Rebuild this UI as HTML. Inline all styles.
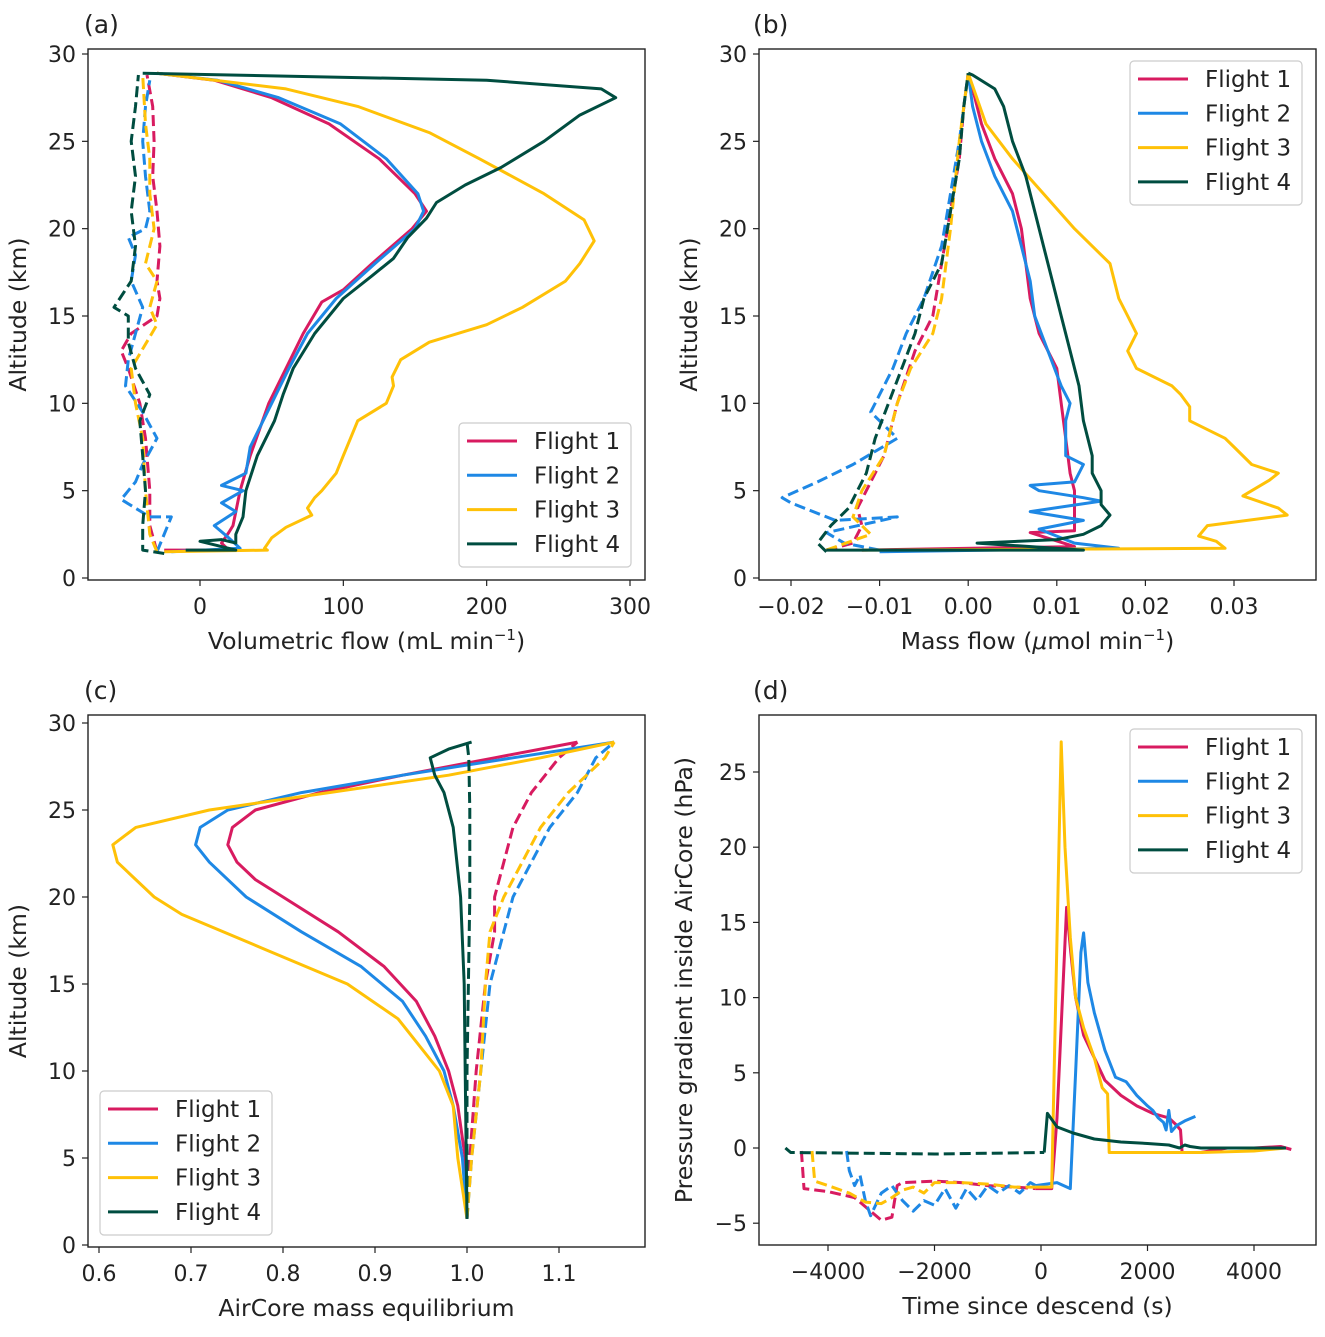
<!DOCTYPE html>
<html><head><meta charset="utf-8"><style>
body{margin:0;background:#fff}
svg text{font-family:"DejaVu Sans","Liberation Sans",sans-serif;fill:#222}
</style></head><body>
<svg id="fig" xmlns="http://www.w3.org/2000/svg" width="1325" height="1332" viewBox="0 0 1325 1332"></svg>
<script>
// ---- data: [y, x] pairs for altitude panels, [t, p] for panel d ----
const aF1Solid=[[1.6,-25],[1.6,20],[2.0,15],[2.6,20],[3,23],[5,28],[7,35],[10,48],[12,60],[14,72],[15.8,85],[16.5,100],[18,120],[20,148],[21,158],[22,150],[24,125],[26,90],[27.5,50],[28.5,10],[28.9,-30]];
const aF2Solid=[[1.5,-20],[1.7,28],[2.3,20],[3.0,10],[3.8,25],[4.3,15],[5.0,30],[5.3,15],[6,32],[7.5,35],[10,50],[12,62],[14,75],[16,95],[18,122],[20,150],[21,156],[22,152],[24,130],[26,98],[27.5,55],[28.5,12],[28.9,-30]];
const aF3Solid=[[1.5,-25],[1.6,47],[1.7,45],[2.3,50],[2.9,60],[3.6,78],[4,75],[4.6,80],[5,85],[6,95],[7,100],[8,105],[9,110],[10,130],[11,135],[11.5,134],[12.5,140],[13.5,160],[14.5,200],[15.5,225],[17,255],[18,265],[19.3,275],[20.5,268],[22,240],[24,195],[25.5,160],[27,110],[28,60],[28.9,-30]];
const aF4Solid=[[1.6,-10],[1.6,25],[2.1,0],[2.2,15],[2.0,25],[2.5,25],[3.5,30],[5,32],[7,40],[9,52],[10.5,58],[12,65],[14,80],[16,100],[17.3,120],[18.3,135],[19.5,145],[20.6,158],[21.5,165],[22.5,185],[23.5,210],[25,240],[26.5,265],[27.5,290],[28.0,280],[28.5,200],[28.9,-40]];
const aF1Dash=[[1.5,-30],[3,-35],[5,-35],[8,-38],[10,-42],[12,-50],[13,-55],[14,-48],[15,-30],[16,-28],[17,-30],[19,-28],[21,-30],[23,-33],[25,-32],[27,-33],[28.8,-37]];
const aF2Dash=[[1.5,-30],[3.5,-20],[3.5,-35],[4.5,-55],[5.5,-45],[6.5,-40],[8,-30],[9.5,-40],[11,-52],[12.5,-50],[14,-45],[15.5,-40],[17,-48],[18.5,-45],[19.5,-50],[20,-38],[21,-35],[23,-38],[25,-40],[27,-38],[28.5,-35]];
const aF3Dash=[[1.5,-30],[2.5,-35],[5,-38],[8,-40],[10,-45],[12,-48],[14.5,-30],[15.5,-35],[17,-30],[18,-38],[20,-32],[22,-35],[24,-35],[26,-38],[28.8,-40]];
const aF4Dash=[[1.4,-25],[1.6,-40],[3,-40],[5,-38],[7,-40],[9,-42],[10.5,-35],[12,-45],[13.5,-50],[15,-50],[15.5,-60],[17,-48],[19,-45],[21,-48],[23,-45],[25,-48],[27,-45],[28.8,-43]];

const bF1Solid=[[1.6,-0.012],[1.8,0.012],[2.6,0.007],[2.7,0.012],[3,0.012],[4,0.012],[5,0.012],[6,0.0115],[8,0.011],[10,0.0105],[12,0.01],[14,0.008],[16,0.007],[18,0.0065],[20,0.006],[22,0.005],[24,0.003],[26,0.0015],[28,0.0005],[28.9,0]];
const bF2Solid=[[1.5,-0.01],[1.7,0.017],[2,0.012],[2.8,0.008],[3.3,0.013],[3.8,0.007],[4.4,0.015],[4.6,0.013],[5,0.008],[5.3,0.007],[5.5,0.012],[6.5,0.013],[7,0.011],[9,0.011],[10,0.0115],[11,0.0105],[13,0.009],[15,0.0075],[17,0.007],[19,0.006],[21,0.005],[23,0.003],[25,0.0015],[27,0.0005],[28.9,0]];
const bF3Solid=[[1.6,-0.012],[1.7,0.029],[2.1,0.028],[2.4,0.026],[3,0.027],[3.6,0.036],[4,0.035],[4.7,0.031],[5,0.032],[5.6,0.034],[6,0.035],[6.5,0.032],[7.5,0.03],[8,0.029],[9,0.025],[9.8,0.025],[10.5,0.024],[11,0.023],[12,0.019],[13,0.018],[14,0.019],[15,0.018],[16,0.017],[18,0.016],[20,0.012],[22,0.0085],[24,0.005],[26,0.002],[28.9,0]];
const bF4Solid=[[1.6,-0.016],[1.6,0.013],[2.0,0.001],[2.2,0.01],[2.5,0.013],[3,0.015],[3.6,0.016],[4.2,0.015],[5,0.015],[6,0.014],[7,0.014],[9,0.013],[11,0.0125],[13,0.0115],[15,0.0105],[17,0.0095],[19,0.0085],[21,0.0075],[23,0.0065],[25,0.005],[27,0.004],[28,0.003],[28.8,0.0005],[28.9,0]];
const bF1Dash=[[1.6,-0.016],[2,-0.013],[3,-0.012],[4,-0.0125],[5,-0.0115],[7,-0.0095],[10,-0.008],[13,-0.006],[15,-0.004],[18,-0.003],[21,-0.002],[24,-0.001],[27,-0.0005],[28.9,0]];
const bF2Dash=[[1.6,-0.01],[2,-0.014],[2.6,-0.016],[3.5,-0.008],[3.3,-0.015],[4.3,-0.02],[4.6,-0.021],[5.5,-0.017],[6.5,-0.013],[8,-0.008],[9.5,-0.011],[10.5,-0.01],[12,-0.0085],[14,-0.007],[16,-0.005],[19,-0.003],[22,-0.002],[25,-0.001],[28.9,0]];
const bF3Dash=[[1.6,-0.016],[2.5,-0.011],[3.5,-0.013],[5,-0.012],[7,-0.0095],[10,-0.008],[12,-0.0065],[14,-0.004],[16,-0.003],[20,-0.002],[25,-0.001],[28.9,0]];
const bF4Dash=[[1.5,-0.016],[2,-0.017],[3,-0.0155],[4,-0.0135],[6,-0.0115],[8,-0.0105],[10,-0.009],[12,-0.0075],[14,-0.006],[16,-0.005],[18,-0.003],[21,-0.002],[24,-0.001],[27,-0.0005],[28.9,0]];

const cF1Solid=[[1.5,1.0],[5,0.998],[8,0.99],[10,0.98],[12,0.965],[14,0.945],[16,0.91],[18,0.86],[20,0.8],[21,0.77],[22,0.75],[23,0.74],[24,0.745],[25,0.77],[26,0.84],[27,0.93],[28,1.03],[28.9,1.12]];
const cF2Solid=[[1.5,1.0],[5,0.995],[8,0.985],[10,0.975],[12,0.955],[14,0.93],[16,0.885],[18,0.82],[20,0.76],[22,0.72],[23,0.705],[24,0.71],[25,0.74],[26,0.82],[27,0.93],[28,1.05],[28.9,1.16]];
const cF3Solid=[[1.5,1.0],[5,0.99],[8,0.985],[10,0.97],[12,0.94],[13,0.925],[15,0.87],[17,0.78],[19,0.69],[20,0.66],[21,0.64],[22,0.62],[23,0.615],[24,0.64],[25,0.72],[26,0.85],[27,0.98],[28,1.08],[28.9,1.16]];
const cF4Solid=[[1.5,1.0],[10,0.998],[15,0.997],[20,0.993],[24,0.985],[26,0.975],[27,0.965],[28,0.96],[28.5,0.98],[28.9,1.005]];
const cF1Dash=[[1.5,1.0],[5,1.003],[10,1.01],[15,1.02],[18,1.03],[20,1.03],[22,1.04],[24,1.05],[26,1.07],[28,1.1],[28.9,1.12]];
const cF2Dash=[[1.5,1.0],[5,1.005],[10,1.015],[15,1.025],[18,1.04],[20,1.05],[22,1.07],[24,1.09],[26,1.12],[28,1.14],[28.9,1.16]];
const cF3Dash=[[1.5,1.0],[5,1.005],[10,1.015],[15,1.02],[18,1.025],[20,1.04],[22,1.06],[24,1.08],[26,1.11],[27,1.13],[28,1.15],[28.9,1.16]];
const cF4Dash=[[1.5,1.0],[10,1.0],[20,1.003],[25,1.003],[28,1.002],[28.9,1.0]];

const dF1Solid=[[-100,-2.7],[200,-2.7],[300,2],[480,16],[560,13],[650,10],[800,7.5],[1000,6],[1200,4.5],[1500,3.5],[1800,2.8],[2100,2.3],[2400,2],[2550,1.5],[2620,1.2],[2650,-0.3],[3000,-0.3],[3500,0],[4000,0],[4500,0.1],[4700,-0.1]];
const dF2Solid=[[-100,-2.5],[300,-2.3],[550,-2.7],[650,5],[750,13],[800,14.3],[880,11],[1000,9],[1200,6.5],[1400,4.7],[1600,4.4],[1800,3.5],[2000,2.8],[2100,2.5],[2200,2],[2300,1.7],[2350,1.2],[2400,2.5],[2450,1.1],[2550,1.5],[2700,1.8],[2900,2.1]];
const dF3Solid=[[-100,-2.6],[200,-2.6],[380,27],[450,20],[550,14],[650,10],[800,8],[1000,6],[1150,4],[1250,3.6],[1280,-0.3],[2000,-0.3],[3000,-0.3],[4000,-0.2],[4600,0]];
const dF4Solid=[[60,-0.3],[120,2.3],[300,1.4],[600,1],[1000,0.6],[1500,0.4],[2000,0.3],[2400,0.2],[2600,0],[2700,0.2],[2800,0.1],[3000,0],[4600,0]];
const dF1Dash=[[-4500,-0.2],[-4450,-2.7],[-4000,-2.9],[-3500,-3.3],[-3200,-4.2],[-3000,-4.8],[-2800,-4.6],[-2750,-3.5],[-2700,-2.5],[-2600,-2.3],[-2000,-2.2],[-1500,-2.3],[-1000,-2.5],[-500,-2.6],[-100,-2.7]];
const dF2Dash=[[-3650,-0.2],[-3600,-1.5],[-3500,-2.5],[-3400,-1.8],[-3300,-3.5],[-3200,-4.5],[-3000,-3],[-2800,-2.5],[-2600,-3.5],[-2400,-4.2],[-2200,-3.5],[-2000,-3.8],[-1800,-2.7],[-1600,-4.0],[-1400,-2.7],[-1200,-3.5],[-1000,-2.5],[-800,-3.0],[-600,-2.5],[-400,-3.0],[-200,-2.3],[-100,-2.5]];
const dF3Dash=[[-4300,-0.2],[-4250,-2.2],[-4000,-2.5],[-3600,-3],[-3300,-3.6],[-3000,-3.7],[-2800,-3.3],[-2600,-2.8],[-2400,-2.6],[-2200,-3.0],[-2000,-2.3],[-1500,-2.3],[-1000,-2.4],[-500,-2.6],[-100,-2.6]];
const dF4Dash=[[-4800,0],[-4700,-0.3],[-2000,-0.4],[60,-0.3]];

const aXTicks=[0,100,200,300];
const bXTicks=[-0.02,-0.01,0,0.01,0.02,0.03];
const bXLabels=["−0.02","−0.01","0.00","0.01","0.02","0.03"];
const cXTicks=[0.6,0.7,0.8,0.9,1.0,1.1];
const cXLabels=["0.6","0.7","0.8","0.9","1.0","1.1"];
const dXTicks=[-4000,-2000,0,2000,4000];
const dXLabels=["−4000","−2000","0","2000","4000"];
const altTicks=[0,5,10,15,20,25,30];
const dYTicks=[-5,0,5,10,15,20,25];
const dYLabels=["−5","0","5","10","15","20","25"];
const flightNames=["Flight 1","Flight 2","Flight 3","Flight 4"];
const colors=["#d81b60","#1e88e5","#ffc107","#004d40"];

const NS="http://www.w3.org/2000/svg";
const svg=document.getElementById('fig');
function mk(tag,attrs,parent){const e=document.createElementNS(NS,tag);for(const k in attrs)e.setAttribute(k,attrs[k]);(parent||svg).appendChild(e);return e;}
function lin(d0,p0,d1,p1){return v=>p0+(v-d0)*(p1-p0)/(d1-d0);}

function panel(cfg){
  const g=mk('g',{});
  
  
  const [L,T,R,B]=cfg.box;
  const clipId='clip'+cfg.id;
  const cp=mk('clipPath',{id:clipId},g);mk('rect',{x:L,y:T,width:R-L,height:B-T},cp);
  const lg=mk('g',{'clip-path':'url(#'+clipId+')'},g);
  cfg.series.forEach((s,i)=>{
    const pts=s.data.map(p=>cfg.swap?[cfg.x(p[1]),cfg.y(p[0])]:[cfg.x(p[0]),cfg.y(p[1])]);
    const pl=mk('polyline',{points:pts.map(p=>p[0].toFixed(1)+','+p[1].toFixed(1)).join(' '),fill:'none',stroke:colors[s.c],'stroke-width':3,'stroke-linejoin':'round'},lg);
    if(s.dash)pl.setAttribute('stroke-dasharray','11 5');
    
    
  });
  const frame=mk('rect',{x:L,y:T,width:R-L,height:B-T,fill:'none',stroke:'#222','stroke-width':1.4},g);
  
  
  cfg.xt.forEach((v,i)=>{const px=cfg.x(v);mk('line',{x1:px,y1:B,x2:px,y2:B+6,stroke:'#222','stroke-width':1.2},g);
    const t=mk('text',{x:px,y:B+34,'font-size':22,'text-anchor':'middle'},g);t.textContent=cfg.xl[i];
    });
  cfg.yt.forEach((v,i)=>{const py=cfg.y(v);mk('line',{x1:L,y1:py,x2:L-6,y2:py,stroke:'#222','stroke-width':1.2},g);
    const t=mk('text',{x:L-12,y:py+8,'font-size':22,'text-anchor':'end'},g);t.textContent=cfg.yl[i];
    });
  const xt=mk('text',{x:(L+R)/2,y:B+69,'font-size':23.5,'text-anchor':'middle'},g);xt.innerHTML=cfg.xTitle;
  
  const yt=mk('text',{x:0,y:0,'font-size':23.5,'text-anchor':'middle',transform:`translate(${cfg.yTitleX},${(T+B)/2}) rotate(-90)`},g);yt.textContent=cfg.yTitle;
  
  const lt=mk('text',{x:cfg.letterX,y:T-16,'font-size':25},g);lt.textContent=cfg.letter;
  
  const [lx,ly]=cfg.legend;
  const leg=mk('g',{},g);
  
  mk('rect',{x:lx,y:ly,width:172,height:144,rx:4,fill:'#fff','fill-opacity':0.85,stroke:'#ccc','stroke-width':1.2},leg);
  flightNames.forEach((n,i)=>{
    const yy=ly+18+i*34.3;
    const e=mk('g',{},leg);
    
    mk('line',{x1:lx+8,y1:yy,x2:lx+58,y2:yy,stroke:colors[i],'stroke-width':3},e);
    const t=mk('text',{x:lx+75,y:yy+8,'font-size':23},e);t.textContent=n;
  });
}
function ser(arrs,prefix){const out=[];arrs.forEach((a,i)=>{out.push({data:a[0],c:i,dash:false,nm:prefix+'-flight'+(i+1)+'-solid'});out.push({data:a[1],c:i,dash:true,nm:prefix+'-flight'+(i+1)+'-dashed'});});return out;}

const altA=lin(0,578,30,54), altC=lin(0,1245,30,723);
panel({id:'a',name:'panel-a-volumetric-flow',box:[88,49,645,580],x:lin(0,200,300,630),y:altA,swap:true,
  series:ser([[aF1Solid,aF1Dash],[aF2Solid,aF2Dash],[aF3Solid,aF3Dash],[aF4Solid,aF4Dash]],'a'),
  xt:aXTicks,xl:aXTicks.map(String),yt:altTicks,yl:altTicks.map(String),
  xTitle:'Volumetric flow (mL min<tspan baseline-shift="super" font-size="15">−1</tspan>)',yTitle:'Altitude (km)',yTitleX:26,letter:'(a)',letterX:84,legend:[459,423]});
panel({id:'b',name:'panel-b-mass-flow',box:[759,49,1316,580],x:lin(-0.02,791,0.03,1234),y:altA,swap:true,
  series:ser([[bF1Solid,bF1Dash],[bF2Solid,bF2Dash],[bF3Solid,bF3Dash],[bF4Solid,bF4Dash]],'b'),
  xt:bXTicks,xl:bXLabels,yt:altTicks,yl:altTicks.map(String),
  xTitle:'Mass flow (<tspan font-style="italic">μ</tspan>mol min<tspan baseline-shift="super" font-size="15">−1</tspan>)',yTitle:'Altitude (km)',yTitleX:697,letter:'(b)',letterX:753,legend:[1130,61]});
panel({id:'c',name:'panel-c-mass-equilibrium',box:[88,715,645,1247],x:lin(0.6,99,1.1,559),y:altC,swap:true,
  series:ser([[cF1Solid,cF1Dash],[cF2Solid,cF2Dash],[cF3Solid,cF3Dash],[cF4Solid,cF4Dash]],'c'),
  xt:cXTicks,xl:cXLabels,yt:altTicks,yl:altTicks.map(String),
  xTitle:'AirCore mass equilibrium',yTitle:'Altitude (km)',yTitleX:26,letter:'(c)',letterX:84,legend:[100,1091]});
panel({id:'d',name:'panel-d-pressure-gradient',box:[759,715,1316,1245],x:lin(-4000,828,4000,1254),y:lin(0,1148,25,772),swap:false,
  series:ser([[dF1Solid,dF1Dash],[dF2Solid,dF2Dash],[dF3Solid,dF3Dash],[dF4Solid,dF4Dash]],'d'),
  xt:dXTicks,xl:dXLabels,yt:dYTicks,yl:dYLabels,
  xTitle:'Time since descend (s)',yTitle:'Pressure gradient inside AirCore (hPa)',yTitleX:692,letter:'(d)',letterX:753,legend:[1130,729]});
</script>
</body></html>
